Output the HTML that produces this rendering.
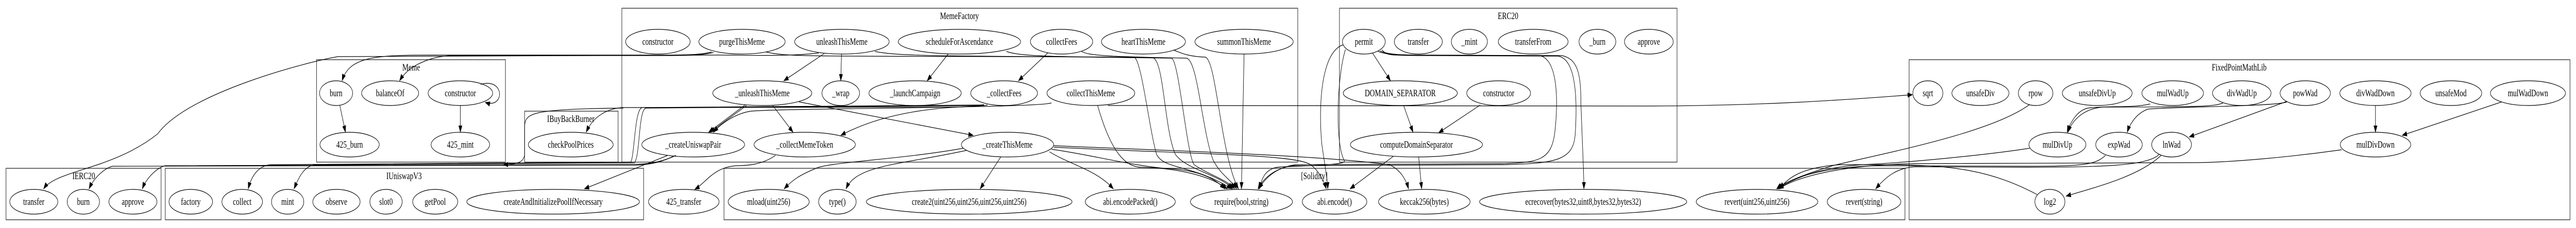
<!DOCTYPE html>
<html><head><meta charset="utf-8"><style>
html,body{margin:0;padding:0;background:#fff;width:100%;height:100%;overflow:hidden;}
svg{display:block;position:absolute;left:0;top:0;width:100%;height:100%;}
text{font-family:"Liberation Serif",serif;font-size:18.5px;text-anchor:middle;fill:#000;}
.n{fill:none;stroke:#000;stroke-width:1.2;}
.c{fill:none;stroke:#333;stroke-width:1.4;}
.e{fill:none;stroke:#000;stroke-width:1.2;}
</style></head><body>
<svg viewBox="0 0 6860 443" preserveAspectRatio="none" xmlns="http://www.w3.org/2000/svg">
<defs><marker id="a" markerWidth="14" markerHeight="10" refX="13" refY="5" orient="auto" markerUnits="userSpaceOnUse"><path d="M0,0 L14,5 L0,10 z" fill="#000"/></marker></defs>
<rect width="6860" height="443" fill="#fff"/>
<!-- clusters -->
<rect class="c" x="843" y="116" width="503" height="199"/><text x="1095" y="137">Meme</text>
<rect class="c" x="16" y="327" width="413" height="100"/><text x="223" y="348">IERC20</text>
<rect class="c" x="440" y="327" width="1274" height="100"/><text x="1076" y="348">IUniswapV3</text>
<rect class="c" x="1397" y="216" width="249" height="99"/><text x="1520" y="237">IBuyBackBurner</text>
<rect class="c" x="1656" y="16" width="1800" height="299"/><text x="2555" y="37">MemeFactory</text>
<rect class="c" x="1928" y="327" width="3145" height="100"/><text x="3500" y="348">[Solidity]</text>
<rect class="c" x="3567" y="16" width="899" height="299"/><text x="4016" y="37">ERC20</text>
<rect class="c" x="5084" y="116" width="1760" height="311"/><text x="5963" y="137">FixedPointMathLib</text>
<!-- nodes -->
<g>
<ellipse class="n" cx="895" cy="181" rx="44" ry="24"/><text x="895" y="187">burn</text>
<ellipse class="n" cx="1039" cy="181" rx="76" ry="24"/><text x="1039" y="187">balanceOf</text>
<ellipse class="n" cx="1226" cy="181" rx="86" ry="24"/><text x="1226" y="187">constructor</text>
<ellipse class="n" cx="931" cy="281" rx="79" ry="24"/><text x="931" y="287">425_burn</text>
<ellipse class="n" cx="1226" cy="281" rx="78" ry="24"/><text x="1226" y="287">425_mint</text>
<ellipse class="n" cx="90" cy="392" rx="64" ry="24"/><text x="90" y="398">transfer</text>
<ellipse class="n" cx="222" cy="392" rx="43" ry="24"/><text x="222" y="398">burn</text>
<ellipse class="n" cx="354" cy="392" rx="64" ry="24"/><text x="354" y="398">approve</text>
<ellipse class="n" cx="508" cy="392" rx="58" ry="24"/><text x="508" y="398">factory</text>
<ellipse class="n" cx="645" cy="392" rx="54" ry="24"/><text x="645" y="398">collect</text>
<ellipse class="n" cx="766" cy="392" rx="43" ry="24"/><text x="766" y="398">mint</text>
<ellipse class="n" cx="896" cy="392" rx="63" ry="24"/><text x="896" y="398">observe</text>
<ellipse class="n" cx="1028" cy="392" rx="43" ry="24"/><text x="1028" y="398">slot0</text>
<ellipse class="n" cx="1159" cy="392" rx="60" ry="24"/><text x="1159" y="398">getPool</text>
<ellipse class="n" cx="1473" cy="392" rx="230" ry="24"/><text x="1473" y="398">createAndInitializePoolIfNecessary</text>
<ellipse class="n" cx="1520" cy="281" rx="113" ry="24"/><text x="1520" y="287">checkPoolPrices</text>
<ellipse class="n" cx="1821" cy="392" rx="94" ry="24"/><text x="1821" y="398">425_transfer</text>
<ellipse class="n" cx="1752" cy="81" rx="86" ry="24"/><text x="1752" y="87">constructor</text>
<ellipse class="n" cx="1976" cy="81" rx="115" ry="24"/><text x="1976" y="87">purgeThisMeme</text>
<ellipse class="n" cx="2242" cy="81" rx="126" ry="24"/><text x="2242" y="87">unleashThisMeme</text>
<ellipse class="n" cx="2555" cy="81" rx="163" ry="24"/><text x="2555" y="87">scheduleForAscendance</text>
<ellipse class="n" cx="2827" cy="81" rx="83" ry="24"/><text x="2827" y="87">collectFees</text>
<ellipse class="n" cx="3045" cy="81" rx="112" ry="24"/><text x="3045" y="87">heartThisMeme</text>
<ellipse class="n" cx="3313" cy="81" rx="131" ry="24"/><text x="3313" y="87">summonThisMeme</text>
<ellipse class="n" cx="2030" cy="181" rx="132" ry="24"/><text x="2030" y="187">_unleashThisMeme</text>
<ellipse class="n" cx="2239" cy="181" rx="50" ry="24"/><text x="2239" y="187">_wrap</text>
<ellipse class="n" cx="2437" cy="181" rx="123" ry="24"/><text x="2437" y="187">_launchCampaign</text>
<ellipse class="n" cx="2674" cy="181" rx="89" ry="24"/><text x="2674" y="187">_collectFees</text>
<ellipse class="n" cx="2905" cy="181" rx="117" ry="24"/><text x="2905" y="187">collectThisMeme</text>
<ellipse class="n" cx="1846" cy="281" rx="137" ry="24"/><text x="1846" y="287">_createUniswapPair</text>
<ellipse class="n" cx="2143" cy="281" rx="135" ry="24"/><text x="2143" y="287">_collectMemeToken</text>
<ellipse class="n" cx="2683" cy="281" rx="123" ry="24"/><text x="2683" y="287">_createThisMeme</text>
<ellipse class="n" cx="2047" cy="392" rx="108" ry="24"/><text x="2047" y="398">mload(uint256)</text>
<ellipse class="n" cx="2230" cy="392" rx="50" ry="24"/><text x="2230" y="398">type()</text>
<ellipse class="n" cx="2581" cy="392" rx="274" ry="24"/><text x="2581" y="398">create2(uint256,uint256,uint256,uint256)</text>
<ellipse class="n" cx="3010" cy="392" rx="120" ry="24"/><text x="3010" y="398">abi.encodePacked()</text>
<ellipse class="n" cx="3306" cy="392" rx="136" ry="24"/><text x="3306" y="398">require(bool,string)</text>
<ellipse class="n" cx="3554" cy="392" rx="86" ry="24"/><text x="3554" y="398">abi.encode()</text>
<ellipse class="n" cx="3793" cy="392" rx="122" ry="24"/><text x="3793" y="398">keccak256(bytes)</text>
<ellipse class="n" cx="4216" cy="392" rx="276" ry="24"/><text x="4216" y="398">ecrecover(bytes32,uint8,bytes32,bytes32)</text>
<ellipse class="n" cx="4679" cy="392" rx="162" ry="24"/><text x="4679" y="398">revert(uint256,uint256)</text>
<ellipse class="n" cx="4964" cy="392" rx="98" ry="24"/><text x="4964" y="398">revert(string)</text>
<ellipse class="n" cx="3632" cy="81" rx="57" ry="24"/><text x="3632" y="87">permit</text>
<ellipse class="n" cx="3777" cy="81" rx="64" ry="24"/><text x="3777" y="87">transfer</text>
<ellipse class="n" cx="3913" cy="81" rx="48" ry="24"/><text x="3913" y="87">_mint</text>
<ellipse class="n" cx="4083" cy="81" rx="93" ry="24"/><text x="4083" y="87">transferFrom</text>
<ellipse class="n" cx="4254" cy="81" rx="49" ry="24"/><text x="4254" y="87">_burn</text>
<ellipse class="n" cx="4391" cy="81" rx="65" ry="24"/><text x="4391" y="87">approve</text>
<ellipse class="n" cx="3729" cy="181" rx="152" ry="24"/><text x="3729" y="187">DOMAIN_SEPARATOR</text>
<ellipse class="n" cx="3991" cy="181" rx="85" ry="24"/><text x="3991" y="187">constructor</text>
<ellipse class="n" cx="3772" cy="281" rx="176" ry="24"/><text x="3772" y="287">computeDomainSeparator</text>
<ellipse class="n" cx="5134" cy="181" rx="40" ry="24"/><text x="5134" y="187">sqrt</text>
<ellipse class="n" cx="5274" cy="181" rx="76" ry="24"/><text x="5274" y="187">unsafeDiv</text>
<ellipse class="n" cx="5421" cy="181" rx="46" ry="24"/><text x="5421" y="187">rpow</text>
<ellipse class="n" cx="5585" cy="181" rx="93" ry="24"/><text x="5585" y="187">unsafeDivUp</text>
<ellipse class="n" cx="5786" cy="181" rx="82" ry="24"/><text x="5786" y="187">mulWadUp</text>
<ellipse class="n" cx="5970" cy="181" rx="78" ry="24"/><text x="5970" y="187">divWadUp</text>
<ellipse class="n" cx="6139" cy="181" rx="67" ry="24"/><text x="6139" y="187">powWad</text>
<ellipse class="n" cx="6326" cy="181" rx="95" ry="24"/><text x="6326" y="187">divWadDown</text>
<ellipse class="n" cx="6527" cy="181" rx="82" ry="24"/><text x="6527" y="187">unsafeMod</text>
<ellipse class="n" cx="6732" cy="181" rx="100" ry="24"/><text x="6732" y="187">mulWadDown</text>
<ellipse class="n" cx="5479" cy="281" rx="76" ry="24"/><text x="5479" y="287">mulDivUp</text>
<ellipse class="n" cx="5643" cy="281" rx="62" ry="24"/><text x="5643" y="287">expWad</text>
<ellipse class="n" cx="5783" cy="281" rx="53" ry="24"/><text x="5783" y="287">lnWad</text>
<ellipse class="n" cx="6326" cy="281" rx="94" ry="24"/><text x="6326" y="287">mulDivDown</text>
<ellipse class="n" cx="5459" cy="392" rx="40" ry="24"/><text x="5459" y="398">log2</text>
</g>
<!-- edges -->
<g class="e" marker-end="url(#a)">
<path d="M1280,164 C1345,150 1345,212 1292,199"/>
<path d="M905,205 L920,257"/>
<path d="M1226,205 L1226,257"/>
<path d="M1895,101 C1860,108 1800,107 1700,107 L1150,107 C1000,107 930,110 911,157"/>
<path d="M1900,102 C1860,109 1800,108 1700,108 L1200,108 C1150,110 1090,125 1064,157"/>
<path d="M2180,103 C2100,110 2000,107 1900,107 L900,110 C820,120 500,180 420,260 C300,330 150,330 116,367"/>
<path d="M2620,203 C2600,208 2550,208 2500,208 L1660,209 C1620,210 1580,225 1561,257"/>
<path d="M2620,204 L1710,209 C1690,212 1690,300 1680,315 L720,320 C690,322 670,340 661,367"/>
<path d="M2620,205 L1720,210 C1700,214 1705,300 1690,316 L840,320 C810,322 795,345 783,367"/>
<path d="M1660,210 C1410,212 1400,220 1397,245 L1397,300 C1395,315 1380,319 1340,320"/>
<path d="M1800,302 C1770,312 1740,318 1700,319 L440,322 C420,325 390,345 379,367"/>
<path d="M1795,303 C1765,314 1735,320 1690,321 L300,323 C280,326 250,345 237,367"/>
<path d="M2195,104 L2087,157"/>
<path d="M2241,105 L2239,157"/>
<path d="M2525,105 L2469,157"/>
<path d="M2790,103 L2712,157"/>
<path d="M1988,205 L1891,257"/>
<path d="M1984,204 L1887,257"/>
<path d="M2058,205 L2112,257"/>
<path d="M2128,198 L2592,263"/>
<path d="M2630,204 C2600,210 2400,200 2239,263"/>
<path d="M2800,200 C2760,210 2100,210 2000,216 C1960,220 1920,240 1900,257"/>
<path d="M1778,302 L1556,367"/>
<path d="M2065,302 C2030,320 1990,322 1960,322 C1900,325 1880,355 1850,368"/>
<path d="M2923,205 C2960,300 3000,325 3040,325 C3150,327 3230,345 3268,367"/>
<path d="M2565,288 C2400,310 2200,315 2170,328 C2130,340 2110,350 2088,367"/>
<path d="M2575,292 C2400,320 2280,320 2253,367"/>
<path d="M2665,305 L2610,367"/>
<path d="M2795,295 C2850,320 2920,330 2965,367"/>
<path d="M2800,290 C2900,300 3000,320 3100,327 C3200,330 3240,350 3262,367"/>
<path d="M2806,283 C3000,290 3500,300 3700,320 C3730,330 3745,350 3751,367"/>
<path d="M2806,286 C3200,300 3450,300 3490,320 C3510,330 3525,350 3532,367"/>
<path d="M2040,101 C2100,112 2200,108 3020,111 C3040,115 3060,250 3080,300 C3100,330 3180,320 3280,367"/>
<path d="M2330,100 C2400,110 2500,108 3070,112 C3100,118 3100,250 3130,300 C3160,330 3250,340 3283,367"/>
<path d="M2680,100 C2720,110 2800,110 3120,113 C3140,118 3160,300 3180,320 C3220,340 3270,350 3288,367"/>
<path d="M2880,100 C2900,108 2950,110 3160,113 C3190,118 3200,250 3230,310 C3250,340 3280,350 3293,367"/>
<path d="M3125,97 C3150,105 3170,110 3210,111 C3240,118 3250,300 3298,367"/>
<path d="M3313,105 L3306,367"/>
<path d="M2950,205 L4400,206 C4700,205 4900,195 5093,184"/>
<path d="M3655,103 L3703,157"/>
<path d="M3738,205 L3763,257"/>
<path d="M3942,204 L3831,258"/>
<path d="M3710,304 L3595,367"/>
<path d="M3778,305 L3786,367"/>
<path d="M3577,87 C3520,100 3510,200 3520,280 C3530,330 3535,350 3536,367"/>
<path d="M3583,96 C3560,150 3555,280 3580,312 C3590,322 3450,322 3400,325 C3370,330 3360,345 3354,367"/>
<path d="M3680,97 C3690,105 3700,107 3720,107 L4160,108 C4200,115 4210,140 4210,200 C4215,300 4218,340 4218,367"/>
<path d="M3675,99 C3700,107 3740,107 3800,107 L4100,108 C4150,115 4150,200 4140,260 C4130,310 4100,316 4000,318 L3450,320 C3400,325 3370,345 3352,367"/>
<path d="M3670,100 C3700,108 3740,108 3800,108 L4150,109 C4200,116 4200,200 4195,260 C4190,310 4150,318 4000,320 L3440,322 C3395,328 3365,345 3350,367"/>
<path d="M5405,203 C5300,260 5000,300 4880,322 C4800,340 4750,355 4731,367"/>
<path d="M5405,288 C5300,300 5100,315 4960,320 C4850,325 4780,345 4735,367"/>
<path d="M6236,291 C6100,305 5950,315 5850,316 L5100,318 C4900,320 4780,345 4737,367"/>
<path d="M5607,302 C5580,320 5550,323 5400,323 L5000,322 C4850,325 4770,345 4733,367"/>
<path d="M5755,302 C5700,340 5600,360 5502,381"/>
<path d="M5750,300 C5720,322 5600,325 5400,325 L5100,324 C5050,326 5020,345 4995,367"/>
<path d="M5425,378 C5300,330 5200,322 5050,320 L4900,320 C4800,325 4760,345 4740,367"/>
<path d="M5726,202 C5680,210 5620,205 5560,210 C5530,215 5512,240 5505,257"/>
<path d="M5920,200 C5900,207 5850,208 5600,208 C5540,212 5515,240 5507,257"/>
<path d="M6090,198 C6060,207 5800,207 5720,212 C5690,220 5672,240 5665,257"/>
<path d="M6090,197 L5830,266"/>
<path d="M6326,205 L6326,257"/>
<path d="M6662,198 L6397,263"/>
</g>
</svg>
</body></html>
